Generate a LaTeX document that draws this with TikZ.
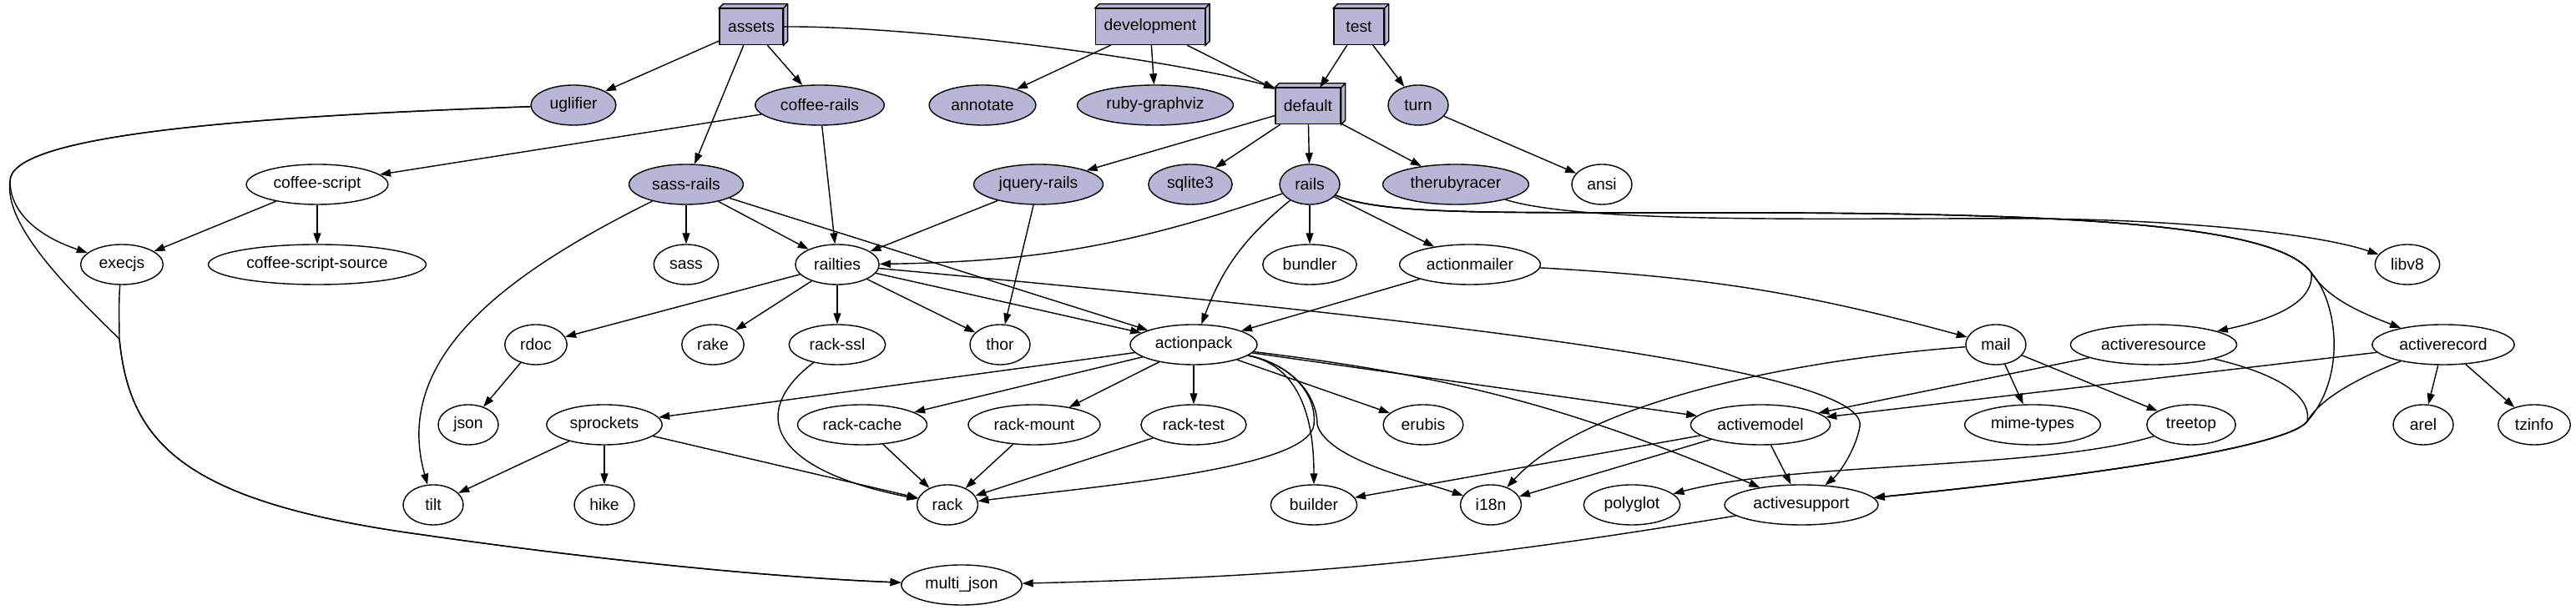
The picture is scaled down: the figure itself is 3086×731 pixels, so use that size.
\documentclass[tikz,border=0pt]{standalone}
\usepackage{fontspec}
\setmainfont{Liberation Sans}
\usetikzlibrary{shapes.geometric,arrows.meta}
\definecolor{gemfill}{RGB}{183,183,213}

\begin{document}
\begin{tikzpicture}[x=0.01cm,y=0.01cm,line width=0.4pt,
    font=\fontsize{5.5}{6}\selectfont,
    >={Triangle[length=0.13cm,width=0.09cm]},
    gem/.style={draw,ellipse,fill=gemfill,inner xsep=0.075cm,inner ysep=0.5pt,
      minimum width=0.72cm,minimum height=0.48cm},
    dep/.style={gem,fill=white},
    group/.style={draw,rectangle,fill=gemfill,inner xsep=0.1cm,
      minimum width=0.6cm,minimum height=0.43cm}]
  \useasboundingbox (0,0) rectangle (3086,731);

  % groups of the Gemfile
  \node[group] (assets) at (900,699) {assets};
  \node[group] (development) at (1378,699) {development};
  \node[group] (test) at (1628,699) {test};
  \node[group] (default) at (1567,604) {default};
  \foreach \b in {assets,development,test,default} {
    \filldraw[fill=gemfill] (\b.north west) -- ([shift={(5,5)}]\b.north west)
      -- ([shift={(5,5)}]\b.north east) -- ([shift={(5,5)}]\b.south east)
      -- (\b.south east) -- (\b.north east) -- cycle;
    \draw (\b.north east) -- ([shift={(5,5)}]\b.north east);
  }

  % gems named in the Gemfile
  \node[gem] (uglifier) at (687,605) {uglifier};
  \node[gem] (coffeerails) at (982,605) {coffee-rails};
  \node[gem] (annotate) at (1177,605) {annotate};
  \node[gem] (rubygraphviz) at (1384,605) {ruby-graphviz};
  \node[gem] (turn) at (1699,605) {turn};
  \node[gem] (sassrails) at (822,510) {sass-rails};
  \node[gem] (jqueryrails) at (1244,510) {jquery-rails};
  \node[gem] (sqlite) at (1426,510) {sqlite3};
  \node[gem] (rails) at (1569,510) {rails};
  \node[gem] (therubyracer) at (1744,510) {therubyracer};

  % dependencies
  \node[dep] (coffeescript) at (380,510) {coffee-script};
  \node[dep] (ansi) at (1919,510) {ansi};
  \node[dep] (execjs) at (146,414) {execjs};
  \node[dep] (cssource) at (380,414) {coffee-script-source};
  \node[dep] (sass) at (822,414) {sass};
  \node[dep] (railties) at (1003,414) {railties};
  \node[dep] (bundler) at (1569,414) {bundler};
  \node[dep] (actionmailer) at (1761,414) {actionmailer};
  \node[dep] (libv) at (2884,414) {libv8};
  \node[dep] (rdoc) at (642,318) {rdoc};
  \node[dep] (rake) at (854,318) {rake};
  \node[dep] (rackssl) at (1003,318) {rack-ssl};
  \node[dep] (thor) at (1198,318) {thor};
  \node[dep] (actionpack) at (1430,318) {actionpack};
  \node[dep] (mail) at (2391,318) {mail};
  \node[dep] (activeresource) at (2580,318) {activeresource};
  \node[dep] (activerecord) at (2927,318) {activerecord};
  \node[dep] (json) at (561,222) {json};
  \node[dep] (sprockets) at (724,222) {sprockets};
  \node[dep] (rackcache) at (1033,222) {rack-cache};
  \node[dep] (rackmount) at (1239,222) {rack-mount};
  \node[dep] (racktest) at (1430,222) {rack-test};
  \node[dep] (erubis) at (1705,222) {erubis};
  \node[dep] (activemodel) at (2109,222) {activemodel};
  \node[dep] (mimetypes) at (2435,222) {mime-types};
  \node[dep] (treetop) at (2625,222) {treetop};
  \node[dep] (arel) at (2903,222) {arel};
  \node[dep] (tzinfo) at (3036,222) {tzinfo};
  \node[dep] (tilt) at (519,126) {tilt};
  \node[dep] (hike) at (724,126) {hike};
  \node[dep] (rack) at (1135,126) {rack};
  \node[dep] (builder) at (1574,126) {builder};
  \node[dep] (ieighteenn) at (1786,126) {i18n};
  \node[dep] (polyglot) at (1955,126) {polyglot};
  \node[dep] (activesupport) at (2158,126) {activesupport};
  \node[dep] (multijson) at (1152,30) {multi\_json};

  % straight edges
  \foreach \a/\b in {assets/uglifier,assets/coffeerails,assets/sassrails,
      development/annotate,development/rubygraphviz,development/default,
      test/default,test/turn,coffeerails/coffeescript,coffeerails/railties,
      coffeescript/execjs,coffeescript/cssource,sassrails/sass,
      sassrails/railties,sassrails/actionpack,default/jqueryrails,
      default/sqlite,default/rails,default/therubyracer,turn/ansi,
      jqueryrails/railties,jqueryrails/thor,rails/bundler,rails/actionmailer,
      railties/rdoc,railties/rake,railties/rackssl,railties/thor,
      railties/actionpack,actionmailer/actionpack,rdoc/json,
      actionpack/sprockets,actionpack/rackcache,actionpack/rackmount,
      actionpack/racktest,actionpack/erubis,actionpack/activemodel,
      mail/mimetypes,mail/treetop,activeresource/activemodel,
      activerecord/activemodel,activerecord/arel,activerecord/tzinfo,
      sprockets/tilt,sprockets/hike,sprockets/rack,rackcache/rack,
      rackmount/rack,racktest/rack,activemodel/builder,
      activemodel/ieighteenn,activemodel/activesupport}
    \draw[->] (\a) -- (\b);

  % curved edges
  \coordinate (jn) at (143,325);
  \coordinate (rsplit) at (2769,404);
  \coordinate (asjoin) at (2764,226);
  \draw[->] (assets.east) .. controls (1100,700) and (1400,660) .. (default.north west);
  \draw[->] (uglifier) .. controls (250,590) and (12,565) .. (12,514)
    .. controls (12,480) and (40,450) .. (execjs);
  \draw[->] (uglifier) .. controls (250,590) and (12,565) .. (12,514)
    .. controls (5,465) and (70,395) .. (jn)
    .. controls (155,200) and (220,130) .. (500,91)
    .. controls (750,55) and (950,38) .. (multijson);
  \draw[->] (execjs) .. controls (142,370) and (143,340) .. (jn)
    .. controls (155,200) and (220,130) .. (500,91)
    .. controls (750,55) and (950,38) .. (multijson);
  \draw[->] (sassrails) .. controls (600,400) and (470,300) .. (tilt);
  \draw[->] (rails) to[bend left=9] (railties);
  \draw[->] (rails) to[bend right=15] (actionpack);
  \draw[->] (rails) .. controls (1660,472) and (1800,477) .. (2080,476)
    .. controls (2500,476) and (2730,460) .. (rsplit)
    .. controls (2772,375) and (2740,352) .. (activeresource);
  \draw[->] (rails) .. controls (1660,472) and (1800,477) .. (2080,476)
    .. controls (2500,476) and (2730,460) .. (rsplit)
    .. controls (2790,370) and (2840,352) .. (activerecord);
  \draw[->] (rails) .. controls (1660,472) and (1800,477) .. (2080,476)
    .. controls (2500,476) and (2730,460) .. (rsplit)
    .. controls (2800,370) and (2812,280) .. (asjoin)
    .. controls (2740,195) and (2500,160) .. (activesupport);
  \draw[->] (activeresource) .. controls (2720,285) and (2770,260) .. (asjoin)
    .. controls (2740,195) and (2500,160) .. (activesupport);
  \draw[->] (activerecord) .. controls (2830,280) and (2780,255) .. (asjoin)
    .. controls (2740,195) and (2500,160) .. (activesupport);
  \draw[->] (therubyracer) .. controls (1900,462) and (2200,470) .. (2430,469)
    .. controls (2620,468) and (2780,450) .. (libv);
  \draw[->] (railties) .. controls (1700,350) and (2240,290) .. (2228,220)
    .. controls (2224,195) and (2205,165) .. (activesupport);
  \draw[->] (actionpack) to[bend left=8] (activesupport);
  \draw[->] (actionpack) .. controls (1545,295) and (1574,250) .. (builder);
  \draw[->] (actionpack) .. controls (1545,295) and (1578,260) .. (1574,222)
    .. controls (1568,170) and (1330,150) .. (rack);
  \draw[->] (actionpack) .. controls (1545,295) and (1578,260) .. (1578,222)
    .. controls (1590,180) and (1700,155) .. (ieighteenn);
  \draw[->] (mail) .. controls (2150,300) and (1900,250) .. (ieighteenn);
  \draw[->] (actionmailer) to[bend left=6] (mail);
  \draw[->] (treetop) .. controls (2450,168) and (2150,178) .. (polyglot);
  \draw[->] (activesupport) to[bend left=4] (multijson);
  \draw[->] (rackssl) .. controls (900,240) and (915,170) .. (rack);
\end{tikzpicture}
\end{document}
